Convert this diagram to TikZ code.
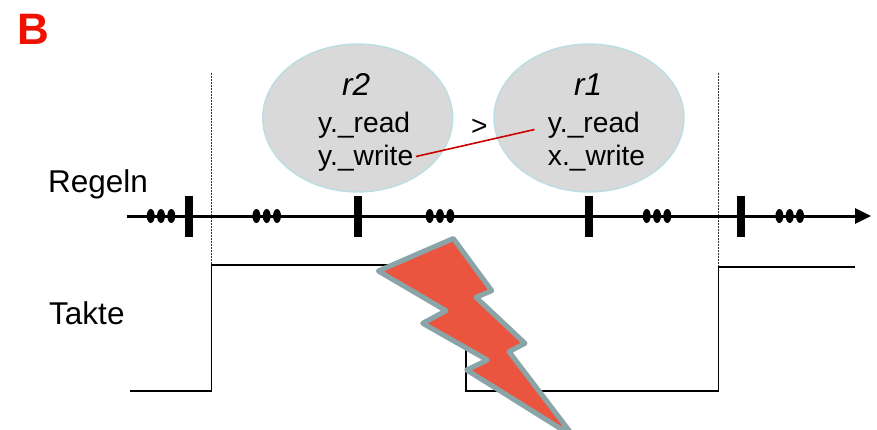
\documentclass[tikz,border=0pt]{standalone}
\usepackage{fontspec}
\setmainfont{Liberation Sans}
\usetikzlibrary{arrows.meta,shapes.geometric}
\definecolor{ellfill}{HTML}{D9D9D9}
\definecolor{ellline}{HTML}{B7DEE3}
\definecolor{boltfill}{HTML}{EB553F}
\definecolor{boltline}{HTML}{8AA5A8}
\definecolor{linkred}{HTML}{CC0000}
\definecolor{titlered}{HTML}{F01000}
\tikzset{
  rulebubble/.style={ellipse,draw=ellline,fill=ellfill,line width=1.3pt,minimum width=190pt,minimum height=148pt,inner sep=0pt},
  lbl/.style={anchor=base west,inner sep=0pt,font=\fontsize{28.2}{28.2}\selectfont},
  biglbl/.style={anchor=base west,inner sep=0pt,font=\fontsize{31.5}{31.5}\selectfont},
  tick/.style={fill=black,draw=none,minimum width=8pt,minimum height=41pt,inner sep=0pt},
  dot/.style={ellipse,fill=black,draw=none,minimum width=8pt,minimum height=14pt,inner sep=0pt},
  guide/.style={line width=0.9pt,dash pattern=on 1.5pt off 1.5pt,black!80},
  clock/.style={line width=1.5pt,black,line join=miter},
}
\newcommand{\dotgroup}[1]{%
  \node[dot] at (#1-10.3,216) {};
  \node[dot] at (#1,216) {};
  \node[dot] at (#1+10.3,216) {};}
\begin{document}
\begin{tikzpicture}[x=1pt,y=-1pt]
\useasboundingbox (0,0) rectangle (877,429);
% guides
\coordinate (g1a) at (211.7,73); \coordinate (g1b) at (211.7,265);
\coordinate (g2a) at (718.3,73); \coordinate (g2b) at (718.3,267);
\draw[guide] (g1a) -- (g1b);
\draw[guide] (g2a) -- (g2b);
% bubbles
\node[rulebubble] (b2) at (357.7,118) {};
\node[rulebubble] (b1) at (589,118) {};
% labels
\node[anchor=base west,inner sep=0pt,text=titlered,font=\fontsize{44}{44}\selectfont\bfseries] (title) at (17,44.5) {B};
\node[biglbl] (r2) at (342,95.5) {\itshape r2};
\node[lbl] (r2a) at (318,132) {y.\_read};
\node[lbl] (r2b) at (318,165.5) {y.\_write};
\node[biglbl] (r1) at (574,95.5) {\itshape r1};
\node[lbl] (r1a) at (547.7,132) {y.\_read};
\node[lbl] (r1b) at (547.7,165.5) {x.\_write};
\node[lbl] (gt) at (471,135) {>};
\node[biglbl] (regeln) at (48,192.5) {Regeln};
\node[biglbl] (takte) at (49,324) {Takte};
% conflict link
\coordinate (la) at (416,156.5); \coordinate (lb) at (534.5,129.5);
\draw[linkred,line width=1.6pt] (la) -- (lb);
% timeline
\coordinate (ts) at (126.5,216); \coordinate (te) at (871,216);
\draw[line width=3pt,-{Triangle[length=16pt,width=15pt]}] (ts) -- (te);
\node[tick] (t1) at (189,216.5) {};
\node[tick] (t2) at (357.7,216.5) {};
\node[tick] (t3) at (589.3,216.5) {};
\node[tick] (t4) at (741,216.5) {};
\dotgroup{161}
\dotgroup{266.7}
\dotgroup{440}
\dotgroup{657}
\dotgroup{789.7}
% clock
\coordinate (c0) at (130,391); \coordinate (c1) at (211.7,391); \coordinate (c2) at (211.7,265);
\coordinate (c3) at (466,265); \coordinate (c4) at (466,391); \coordinate (c5) at (718.7,391);
\coordinate (c6) at (718.7,267); \coordinate (c7) at (855,267);
\draw[clock] (c0) -- (c1) -- (c2) -- (c3) -- (c4) -- (c5) -- (c6) -- (c7);
% lightning bolt
\draw[fill=boltfill,draw=boltline,line width=5pt,line join=round,miter limit=3]
  (453.3,238.5) -- (491.7,290.7) -- (476,297.3) -- (525,343.3) -- (509,351.7)
  -- (574,437) -- (466.7,370) -- (487.3,360) -- (422.7,323.3) -- (446,310.7)
  -- (378.3,271) -- cycle;
\end{tikzpicture}
\end{document}
